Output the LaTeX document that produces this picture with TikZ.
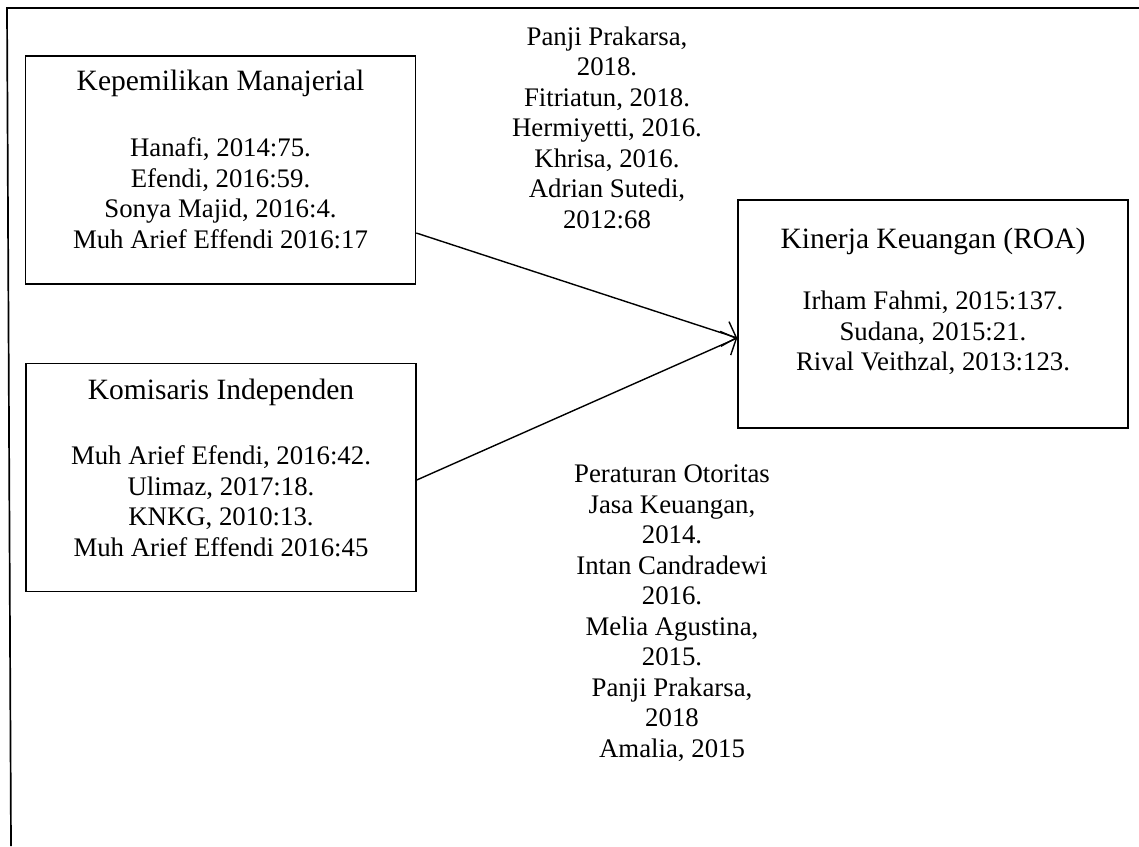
\documentclass[tikz,border=0pt]{standalone}
\usepackage{fontspec}
\setmainfont{Liberation Serif}
\usetikzlibrary{arrows.meta}
\begin{document}
\begin{tikzpicture}[x=1pt,y=-1pt,
  frameline/.style={line width=1.7pt,black},
  varbox/.style={draw,line width=1.5pt,minimum width=390pt,minimum height=228pt,inner sep=0pt},
  txt/.style={align=center,inner sep=0pt,font=\fontsize{26.8}{30.5}\selectfont},
  ttl/.style={align=center,inner sep=0pt,font=\fontsize{29.5}{33}\selectfont},
  conn/.style={line width=1.4pt,-{Straight Barb[length=12pt,width=26pt,line width=1.4pt]}}]
\useasboundingbox (0,0) rectangle (1139,846);
% outer frame
\coordinate (ftl) at (7,8);
\coordinate (ftr) at (1139,8);
\coordinate (fbl) at (11,846);
\draw[frameline] (ftr) -- (ftl) -- (fbl);
% boxes
\node[varbox] (box1) at (220.5,170) {};
\node[varbox] (box2) at (221,477.5) {};
\node[varbox] (box3) at (933,314) {};
% box texts
\node[ttl] (t1) at (220.5,83) {Kepemilikan Manajerial};
\node[txt] (r1) at (220.5,193) {Hanafi, 2014:75.\\Efendi, 2016:59.\\Sonya Majid, 2016:4.\\Muh Arief Effendi 2016:17};
\node[ttl] (t2) at (221,392) {Komisaris Independen};
\node[txt] (r2) at (221,501) {Muh Arief Efendi, 2016:42.\\Ulimaz, 2017:18.\\KNKG, 2010:13.\\Muh Arief Effendi 2016:45};
\node[ttl] (t3) at (933,241) {Kinerja Keuangan (ROA)};
\node[txt] (r3) at (933,333) {Irham Fahmi, 2015:137.\\Sudana, 2015:21.\\Rival Veithzal, 2013:123.};
% reference lists
\node[txt] (ref1) at (607,127.5) {Panji Prakarsa,\\2018.\\Fitriatun, 2018.\\Hermiyetti, 2016.\\Khrisa, 2016.\\Adrian Sutedi,\\2012:68};
\node[txt] (ref2) at (672,613) {Peraturan Otoritas\\Jasa Keuangan,\\2014.\\Intan Candradewi\\2016.\\Melia Agustina,\\2015.\\Panji Prakarsa,\\2018\\Amalia, 2015};
% connectors
\draw[conn] ([yshift=-63pt]box1.east) -- ([yshift=-24pt]box3.west);
\draw[conn] ([yshift=-2.5pt]box2.east) -- ([yshift=-24pt]box3.west);
\end{tikzpicture}
\end{document}
